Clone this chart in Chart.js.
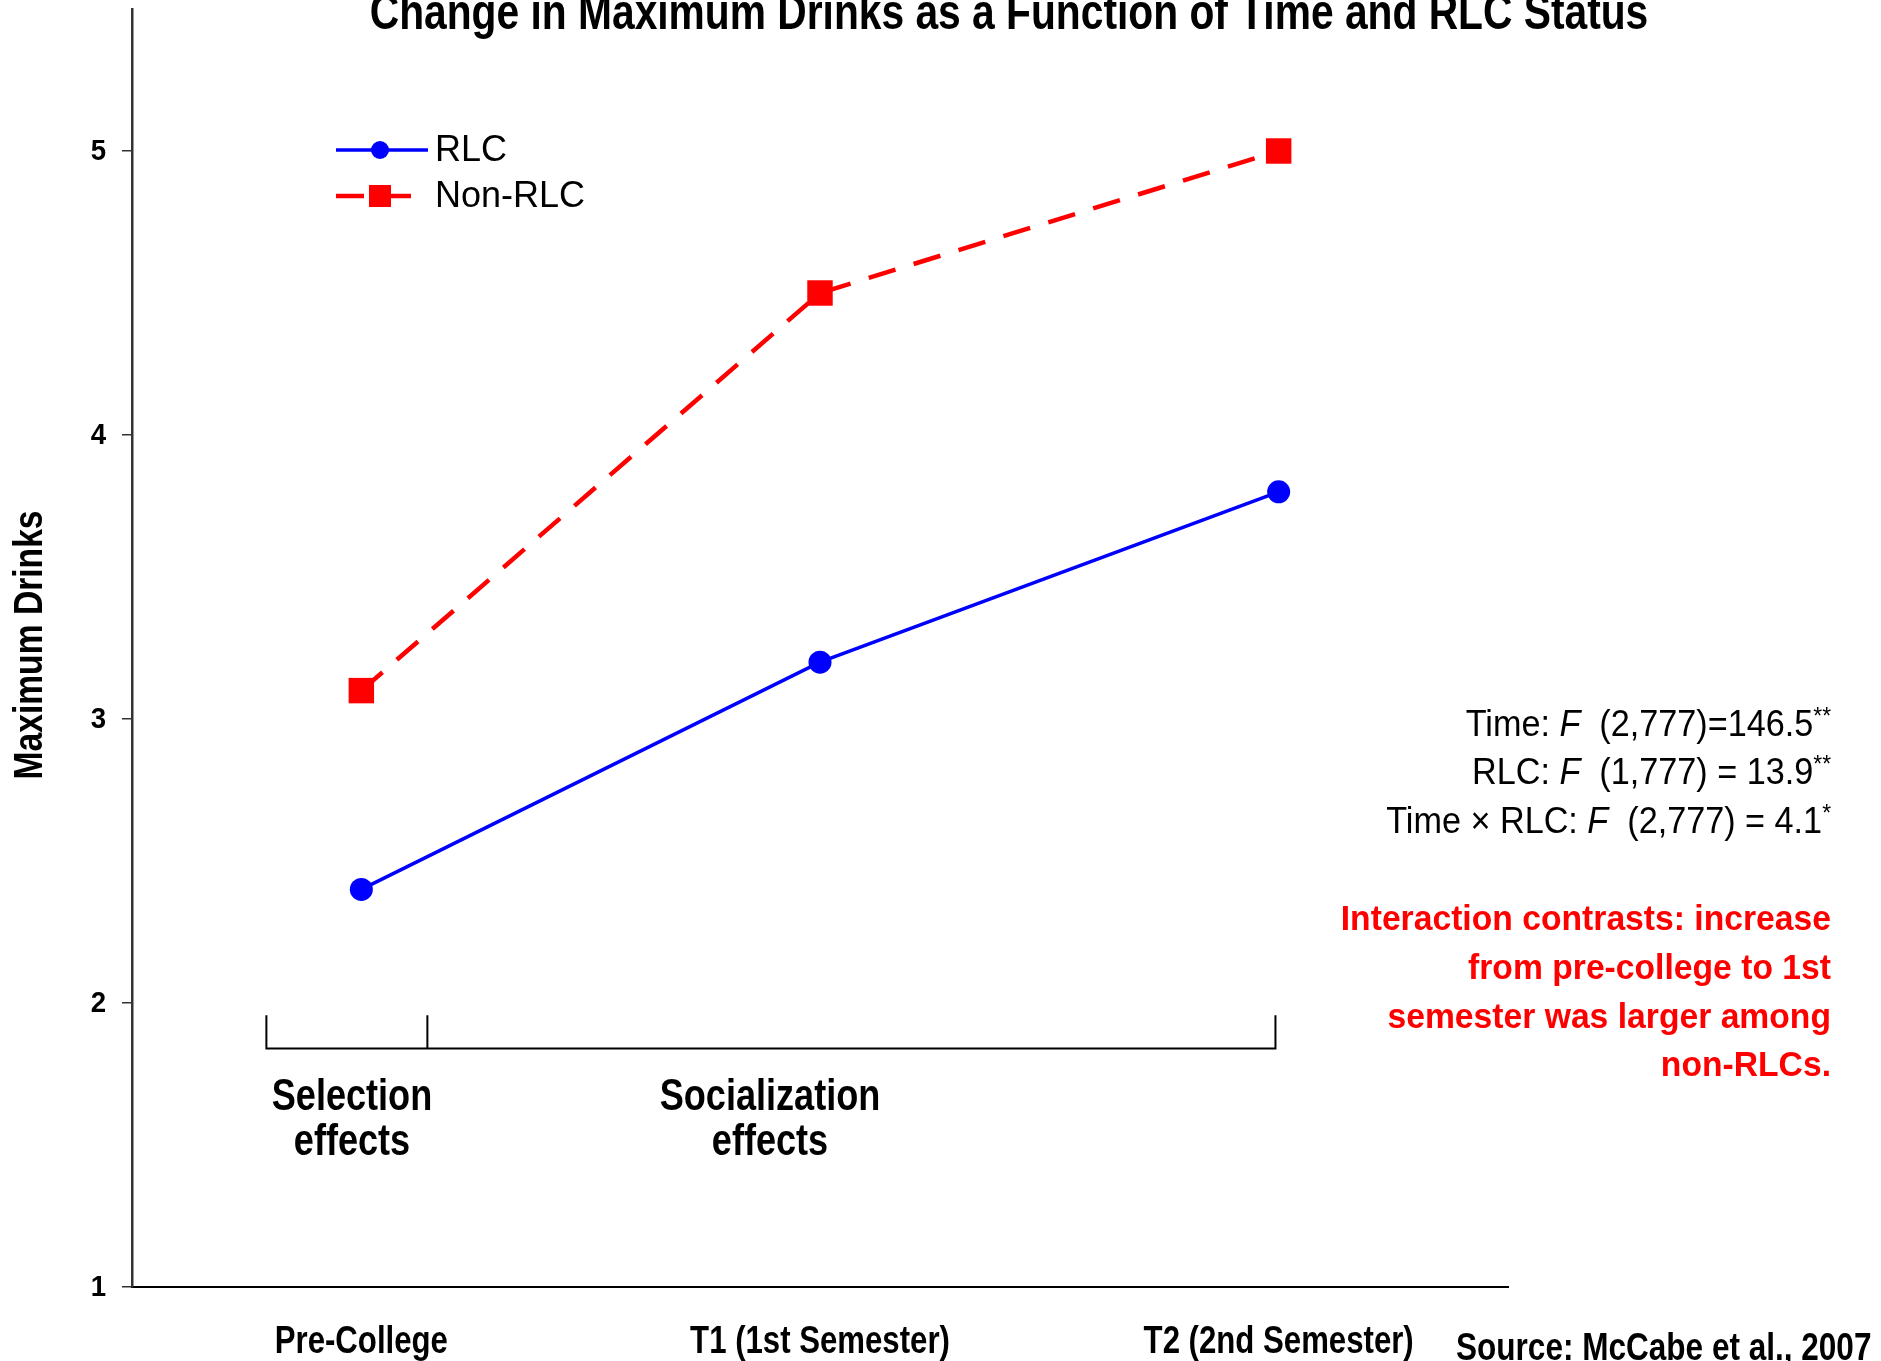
<!DOCTYPE html>
<html>
<head>
<meta charset="utf-8">
<script src="https://cdn.jsdelivr.net/npm/chart.js@4.4.1/dist/chart.umd.min.js"></script>
<style>
  html, body { margin: 0; padding: 0; background: #ffffff; }
  #wrap { width: 1881px; height: 1361px; position: relative; }
</style>
</head>
<body>
<div id="wrap"><canvas id="c" width="1881" height="1361"></canvas></div>
<script>
// ---- data ----
const categories = ['Pre-College', 'T1 (1st Semester)', 'T2 (2nd Semester)'];
const seriesLabels = ['RLC', 'Non-RLC'];
const rlcValues = [2.4, 3.2, 3.8];
const nonRlcValues = [3.1, 4.5, 5.0];
const yTickValues = [1, 2, 3, 4, 5];
const chartTitle = 'Change in Maximum Drinks as a Function of Time and RLC Status';
const yAxisTitle = 'Maximum Drinks';
const sourceText = 'Source: McCabe et al., 2007';
const statsLines = [
  [['Time: ', 'n'], ['F', 'i'], ['  (2,777)=146.5', 'n'], ['**', 's']],
  [['RLC: ', 'n'], ['F', 'i'], ['  (1,777) = 13.9', 'n'], ['**', 's']],
  [['Time \u00d7 RLC: ', 'n'], ['F', 'i'], ['  (2,777) = 4.1', 'n'], ['*', 's']]
];
const noteLines = ['Interaction contrasts: increase', 'from pre-college to 1st', 'semester was larger among', 'non-RLCs.'];
const effectLabels = [['Selection', 'effects'], ['Socialization', 'effects']];

// ---- styles ----
const SANS = '"Liberation Sans", Arial, sans-serif';
const NARROW_SCALE = 0.82;
const BLUE = '#0000ff';
const RED = '#ff0000';

function narrowText(ctx, text, x, y, font, align, baseline, sx) {
  ctx.save();
  ctx.font = font;
  ctx.textAlign = align;
  ctx.textBaseline = baseline;
  ctx.translate(x, y);
  ctx.scale(sx == null ? NARROW_SCALE : sx, 1);
  ctx.fillText(text, 0, 0);
  ctx.restore();
}

const overlay = {
  id: 'overlay',
  afterDraw(chart) {
    const ctx = chart.ctx;
    const xs = chart.scales.x, ys = chart.scales.y;
    ctx.save();
    ctx.fillStyle = '#000';

    // title
    narrowText(ctx, chartTitle, 1009, 29, 'bold 50px ' + SANS, 'center', 'alphabetic', 0.815);

    // y tick labels
    yTickValues.forEach(v => {
      narrowText(ctx, String(v), 106, ys.getPixelForValue(v) + 1, 'bold 30px ' + SANS, 'right', 'middle', 0.92);
    });

    // y axis title (rotated)
    ctx.save();
    ctx.translate(42, 645);
    ctx.rotate(-Math.PI / 2);
    ctx.scale(NARROW_SCALE, 1);
    ctx.font = 'bold 41px ' + SANS;
    ctx.textAlign = 'center';
    ctx.textBaseline = 'alphabetic';
    ctx.fillText(yAxisTitle, 0, 0);
    ctx.restore();

    // x tick labels
    chart.data.labels.forEach((lab, i) => {
      narrowText(ctx, lab, xs.getPixelForValue(i), 1353, 'bold 38px ' + SANS, 'center', 'alphabetic');
    });

    // legend
    const ds = chart.data.datasets;
    const legY = [150, 196];
    ds.forEach((d, i) => {
      const y = legY[i];
      ctx.save();
      ctx.strokeStyle = d.borderColor;
      ctx.lineWidth = d.borderWidth;
      ctx.setLineDash(d.borderDash || []);
      ctx.beginPath();
      ctx.moveTo(336, y);
      ctx.lineTo(428, y);
      ctx.stroke();
      ctx.restore();
      ctx.fillStyle = d.pointBackgroundColor;
      if (d.pointStyle === 'rect') {
        ctx.fillRect(380 - 11, y - 11, 22, 22);
      } else {
        ctx.beginPath();
        ctx.arc(380, y, 9, 0, Math.PI * 2);
        ctx.fill();
      }
      ctx.fillStyle = '#000';
      ctx.font = '36px ' + SANS;
      ctx.textAlign = 'left';
      ctx.textBaseline = 'middle';
      ctx.fillText(d.label, 435, y + 1);
    });

    // bracket (data units)
    const bx0 = xs.getPixelForValue(-0.207), bx1 = xs.getPixelForValue(0.144), bx2 = xs.getPixelForValue(1.993);
    const byB = ys.getPixelForValue(1.84), byT = ys.getPixelForValue(1.957);
    ctx.strokeStyle = '#000';
    ctx.lineWidth = 2;
    ctx.beginPath();
    ctx.moveTo(bx0, byT); ctx.lineTo(bx0, byB); ctx.lineTo(bx2, byB); ctx.lineTo(bx2, byT);
    ctx.moveTo(bx1, byT); ctx.lineTo(bx1, byB);
    ctx.stroke();

    // effect labels
    ctx.fillStyle = '#000';
    const effX = [352, 770];
    effectLabels.forEach((lines, i) => {
      lines.forEach((t, j) => narrowText(ctx, t, effX[i], 1098 + j * 45, 'bold 44px ' + SANS, 'center', 'middle'));
    });

    // stats lines (right aligned)
    const rightX = 1831;
    const statY = [726, 774, 823];
    const SSX = 0.95;
    statsLines.forEach((segs, i) => {
      const fonts = segs.map(s => s[1] === 'i' ? 'italic 36px ' + SANS : (s[1] === 's' ? '24px ' + SANS : '36px ' + SANS));
      let total = 0;
      segs.forEach((s, k) => { ctx.font = fonts[k]; total += ctx.measureText(s[0]).width * SSX; });
      let x = rightX - total;
      ctx.fillStyle = '#000';
      segs.forEach((s, k) => {
        narrowText(ctx, s[0], x, s[1] === 's' ? statY[i] - 9 : statY[i], fonts[k], 'left', 'middle', SSX);
        ctx.font = fonts[k];
        x += ctx.measureText(s[0]).width * SSX;
      });
    });

    // red note
    ctx.fillStyle = RED;
    const noteY = [920, 969, 1018, 1066];
    noteLines.forEach((t, i) => narrowText(ctx, t, rightX, noteY[i], 'bold 35px ' + SANS, 'right', 'middle', 0.962));

    // source
    ctx.fillStyle = '#000';
    narrowText(ctx, sourceText, 1456, 1360, 'bold 38px ' + SANS, 'left', 'alphabetic', 0.83);

    ctx.restore();
  }
};

new Chart(document.getElementById('c'), {
  type: 'line',
  data: {
    labels: categories,
    datasets: [
      {
        label: seriesLabels[0],
        data: rlcValues,
        borderColor: BLUE,
        backgroundColor: BLUE,
        pointBackgroundColor: BLUE,
        pointBorderColor: BLUE,
        borderWidth: 3.5,
        pointStyle: 'circle',
        pointRadius: 11.5,
        pointBorderWidth: 0,
        tension: 0
      },
      {
        label: seriesLabels[1],
        data: nonRlcValues,
        borderColor: RED,
        backgroundColor: RED,
        pointBackgroundColor: RED,
        pointBorderColor: RED,
        borderWidth: 4.5,
        borderDash: [28, 19],
        pointStyle: 'rect',
        pointRadius: 18,
        pointBorderWidth: 0,
        tension: 0
      }
    ]
  },
  options: {
    responsive: false,
    animation: false,
    layout: { autoPadding: false, padding: { left: 0, top: 9, right: 373, bottom: 0 } },
    plugins: {
      legend: { display: false },
      title: { display: false },
      tooltip: { enabled: false }
    },
    scales: {
      x: {
        type: 'category',
        offset: true,
        grid: { display: false },
        border: { display: true, color: '#000', width: 2 },
        ticks: { display: false },
        afterFit(scale) {
          scale.height = 74;
          scale.paddingLeft = 0; scale.paddingRight = 0;
        }
      },
      y: {
        type: 'linear',
        min: 1,
        max: 5.5,
        afterBuildTicks(scale) { scale.ticks = yTickValues.map(v => ({ value: v })); },
        grid: { drawOnChartArea: false, drawTicks: true, tickLength: 10, color: '#333', lineWidth: 1.5 },
        border: { display: true, color: '#333', width: 2.5 },
        ticks: { display: false },
        title: { display: false },
        afterFit(scale) {
          scale.width = 132;
          scale.paddingTop = 0; scale.paddingBottom = 0;
        }
      }
    }
  },
  plugins: [overlay]
});
</script>
</body>
</html>
